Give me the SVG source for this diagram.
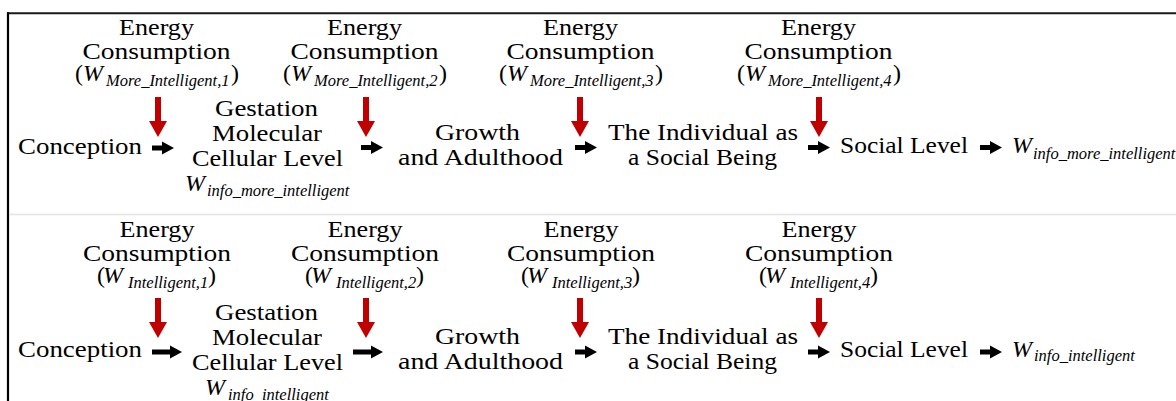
<svg xmlns="http://www.w3.org/2000/svg" xmlns:xlink="http://www.w3.org/1999/xlink" width="1176" height="401" viewBox="0 0 1176 401">
<style>
.t{font-family:"Liberation Serif","Times New Roman",serif;font-size:24px;fill:#000}
.c{text-anchor:middle}
.i{font-style:italic}
.s{font-size:16.5px;font-style:italic}
</style>
<defs>
<path id="ba" d="M0,-2.5 H10 V-6.5 L22,0 L10,6.5 V2.5 H0 Z" fill="#000"/>
<path id="bal" d="M0,-2.5 H18 V-6.5 L30,0 L18,6.5 V2.5 H0 Z" fill="#000"/>
<path id="ra" d="M-3,0 H3 V24 H9 L0,40 L-9,24 H-3 Z" fill="#c00000"/>
</defs>
<rect width="1176" height="401" fill="#fff"/>
<g id="frame">
<line x1="7" y1="13.2" x2="1176" y2="13.2" stroke="#1a1a1a" stroke-width="2"/>
<line x1="8" y1="12.2" x2="8" y2="401" stroke="#000" stroke-width="2.2"/>
<line x1="9" y1="214.5" x2="1176" y2="214.5" stroke="#e4e4e4" stroke-width="1.5"/>
</g>
<!-- Top row energy labels -->
<g id="e1" class="t">
<text class="c" x="156.5" y="34.5" textLength="75" lengthAdjust="spacingAndGlyphs">Energy</text>
<text class="c" x="156.5" y="59" textLength="148" lengthAdjust="spacingAndGlyphs">Consumption</text>
<text x="75" y="81">(<tspan class="i" x="83">W</tspan><tspan class="s" x="106" y="86">More_Intelligent,1</tspan><tspan x="231" y="81">)</tspan></text>
</g>
<g id="e2" class="t" transform="translate(208,0)">
<text class="c" x="156.5" y="34.5" textLength="75" lengthAdjust="spacingAndGlyphs">Energy</text>
<text class="c" x="156.5" y="59" textLength="148" lengthAdjust="spacingAndGlyphs">Consumption</text>
<text x="75" y="81">(<tspan class="i" x="83">W</tspan><tspan class="s" x="106" y="86">More_Intelligent,2</tspan><tspan x="231" y="81">)</tspan></text>
</g>
<g id="e3" class="t" transform="translate(424,0)">
<text class="c" x="156.5" y="34.5" textLength="75" lengthAdjust="spacingAndGlyphs">Energy</text>
<text class="c" x="156.5" y="59" textLength="148" lengthAdjust="spacingAndGlyphs">Consumption</text>
<text x="75" y="81">(<tspan class="i" x="83">W</tspan><tspan class="s" x="106" y="86">More_Intelligent,3</tspan><tspan x="231" y="81">)</tspan></text>
</g>
<g id="e4" class="t" transform="translate(662,0)">
<text class="c" x="156.5" y="34.5" textLength="75" lengthAdjust="spacingAndGlyphs">Energy</text>
<text class="c" x="156.5" y="59" textLength="148" lengthAdjust="spacingAndGlyphs">Consumption</text>
<text x="75" y="81">(<tspan class="i" x="83">W</tspan><tspan class="s" x="106" y="86">More_Intelligent,4</tspan><tspan x="231" y="81">)</tspan></text>
</g>
<!-- Top row stages -->
<g id="conception1" class="t"><text x="18" y="154" textLength="124" lengthAdjust="spacingAndGlyphs">Conception</text></g>
<g id="gestation1" class="t">
<text class="c" x="266.5" y="116" textLength="103" lengthAdjust="spacingAndGlyphs">Gestation</text>
<text class="c" x="267" y="141" textLength="110" lengthAdjust="spacingAndGlyphs">Molecular</text>
<text class="c" x="267.5" y="166" textLength="151" lengthAdjust="spacingAndGlyphs">Cellular Level</text>
<text class="i" x="185" y="191">W<tspan class="s" x="207" y="196">info_more_intelligent</tspan></text>
</g>
<g id="growth1" class="t">
<text class="c" x="477.5" y="140" textLength="85" lengthAdjust="spacingAndGlyphs">Growth</text>
<text class="c" x="480.5" y="165" textLength="165" lengthAdjust="spacingAndGlyphs">and Adulthood</text>
</g>
<g id="individual1" class="t">
<text class="c" x="703" y="140" textLength="190" lengthAdjust="spacingAndGlyphs">The Individual as</text>
<text class="c" x="702.5" y="165" textLength="149" lengthAdjust="spacingAndGlyphs">a Social Being</text>
</g>
<g id="social1" class="t"><text x="840" y="153" textLength="128" lengthAdjust="spacingAndGlyphs">Social Level</text></g>
<g id="winfo1" class="t"><text class="i" x="1012" y="153">W<tspan class="s" x="1033" y="159">info_more_intelligent</tspan></text></g>
<!-- Bottom row energy labels -->
<g id="e5" class="t">
<text class="c" x="157" y="236.5" textLength="75" lengthAdjust="spacingAndGlyphs">Energy</text>
<text class="c" x="157" y="260.5" textLength="148" lengthAdjust="spacingAndGlyphs">Consumption</text>
<text x="97" y="282.5">(<tspan class="i" x="103">W</tspan><tspan class="s" x="128" y="287.5">Intelligent,1</tspan><tspan x="208" y="282.5">)</tspan></text>
</g>
<g id="e6" class="t" transform="translate(208,0)">
<text class="c" x="157" y="236.5" textLength="75" lengthAdjust="spacingAndGlyphs">Energy</text>
<text class="c" x="157" y="260.5" textLength="148" lengthAdjust="spacingAndGlyphs">Consumption</text>
<text x="97" y="282.5">(<tspan class="i" x="103">W</tspan><tspan class="s" x="128" y="287.5">Intelligent,2</tspan><tspan x="208" y="282.5">)</tspan></text>
</g>
<g id="e7" class="t" transform="translate(424,0)">
<text class="c" x="157" y="236.5" textLength="75" lengthAdjust="spacingAndGlyphs">Energy</text>
<text class="c" x="157" y="260.5" textLength="148" lengthAdjust="spacingAndGlyphs">Consumption</text>
<text x="97" y="282.5">(<tspan class="i" x="103">W</tspan><tspan class="s" x="128" y="287.5">Intelligent,3</tspan><tspan x="208" y="282.5">)</tspan></text>
</g>
<g id="e8" class="t" transform="translate(662,0)">
<text class="c" x="157" y="236.5" textLength="75" lengthAdjust="spacingAndGlyphs">Energy</text>
<text class="c" x="157" y="260.5" textLength="148" lengthAdjust="spacingAndGlyphs">Consumption</text>
<text x="97" y="282.5">(<tspan class="i" x="103">W</tspan><tspan class="s" x="128" y="287.5">Intelligent,4</tspan><tspan x="208" y="282.5">)</tspan></text>
</g>
<!-- Bottom row stages -->
<g id="conception2" class="t"><text x="18" y="357" textLength="124" lengthAdjust="spacingAndGlyphs">Conception</text></g>
<g id="gestation2" class="t">
<text class="c" x="266.5" y="320" textLength="103" lengthAdjust="spacingAndGlyphs">Gestation</text>
<text class="c" x="267" y="345" textLength="110" lengthAdjust="spacingAndGlyphs">Molecular</text>
<text class="c" x="267.5" y="370" textLength="151" lengthAdjust="spacingAndGlyphs">Cellular Level</text>
<text class="i" x="205" y="395">W<tspan class="s" x="228" y="399.5">info_intelligent</tspan></text>
</g>
<g id="growth2" class="t">
<text class="c" x="477.5" y="343.5" textLength="85" lengthAdjust="spacingAndGlyphs">Growth</text>
<text class="c" x="480.5" y="368.5" textLength="165" lengthAdjust="spacingAndGlyphs">and Adulthood</text>
</g>
<g id="individual2" class="t">
<text class="c" x="703" y="343.5" textLength="190" lengthAdjust="spacingAndGlyphs">The Individual as</text>
<text class="c" x="702.5" y="368.5" textLength="149" lengthAdjust="spacingAndGlyphs">a Social Being</text>
</g>
<g id="social2" class="t"><text x="840" y="357" textLength="128" lengthAdjust="spacingAndGlyphs">Social Level</text></g>
<g id="winfo2" class="t"><text class="i" x="1012" y="356.5">W<tspan class="s" x="1034" y="361">info_intelligent</tspan></text></g>
<g id="connectors">
<use xlink:href="#ra" x="158" y="97"/>
<use xlink:href="#ra" x="366" y="97"/>
<use xlink:href="#ra" x="580" y="97"/>
<use xlink:href="#ra" x="819" y="97"/>
<use xlink:href="#ba" x="152" y="148"/>
<use xlink:href="#ba" x="361" y="147.5"/>
<use xlink:href="#ba" x="575" y="147.5"/>
<use xlink:href="#ba" x="808" y="147.5"/>
<use xlink:href="#ba" x="980" y="147.5"/>
<use xlink:href="#ra" x="158" y="298"/>
<use xlink:href="#ra" x="366" y="298"/>
<use xlink:href="#ra" x="580" y="298"/>
<use xlink:href="#ra" x="819" y="298"/>
<use xlink:href="#bal" x="152" y="352"/>
<use xlink:href="#bal" x="353" y="352"/>
<use xlink:href="#ba" x="575" y="352"/>
<use xlink:href="#ba" x="808" y="352"/>
<use xlink:href="#ba" x="980" y="352"/>
</g>
</svg>
